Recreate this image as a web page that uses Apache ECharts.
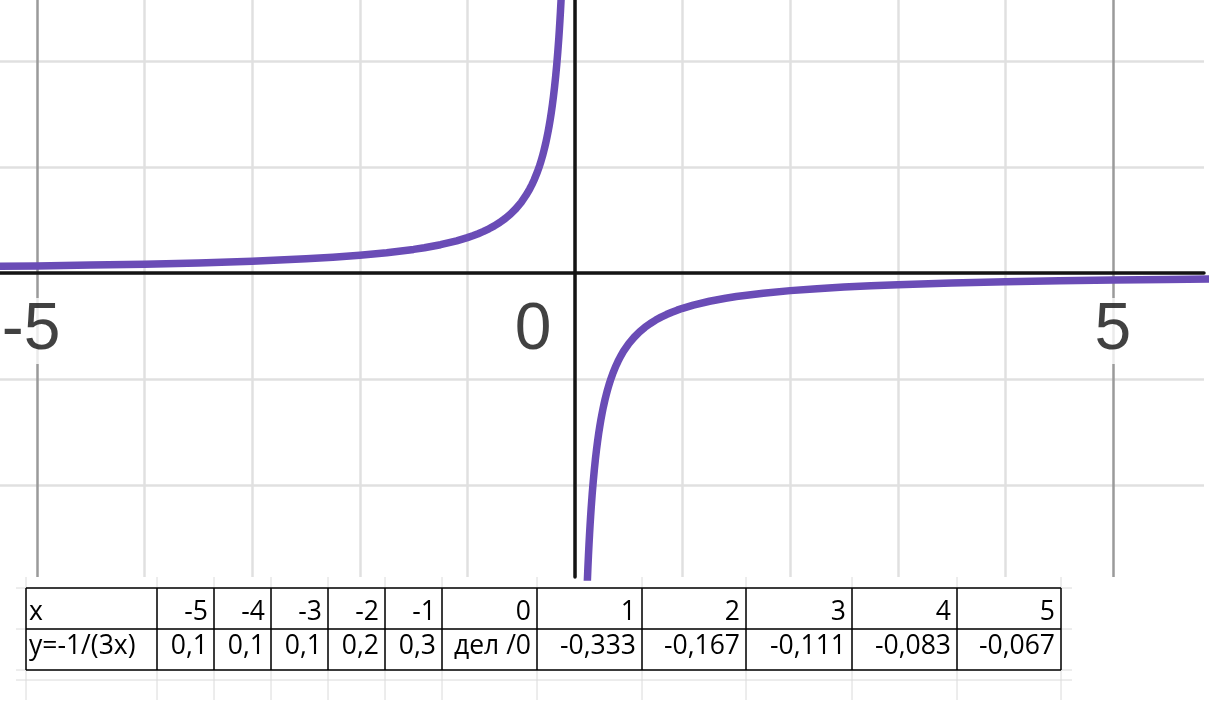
<!DOCTYPE html>
<html><head><meta charset="utf-8">
<script src="https://cdn.jsdelivr.net/npm/echarts@6/dist/echarts.min.js"></script>
<style>html,body{margin:0;padding:0;background:#fff}#c{width:1230px;height:708px}</style>
</head><body><div id="c"></div>
<script>
// ---- data: y = -1/(3x) ----
const curveNegX = [-5.4, -5, -4.5, -4, -3.5, -3, -2.75, -2.5, -2.25, -2, -1.75, -1.5, -1.4, -1.25, -1.1, -1, -0.95, -0.9, -0.85, -0.8, -0.75, -0.7, -0.65, -0.6, -0.55, -0.5, -0.45, -0.42, -0.4, -0.38, -0.35, -0.33, -0.32, -0.31, -0.3, -0.29, -0.28, -0.27, -0.26, -0.25, -0.24, -0.23, -0.22, -0.21, -0.2, -0.19, -0.18, -0.17, -0.16, -0.15, -0.145, -0.14, -0.135, -0.13, -0.125, -0.12, -0.11, -0.1];
const curveNegY = [0.0617, 0.0667, 0.0741, 0.0833, 0.0952, 0.1111, 0.1212, 0.1333, 0.1481, 0.1667, 0.1905, 0.2222, 0.2381, 0.2667, 0.3030, 0.3333, 0.3509, 0.3704, 0.3922, 0.4167, 0.4444, 0.4762, 0.5128, 0.5556, 0.6061, 0.6667, 0.7407, 0.7937, 0.8333, 0.8772, 0.9524, 1.0101, 1.0417, 1.0753, 1.1111, 1.1494, 1.1905, 1.2346, 1.2821, 1.3333, 1.3889, 1.4493, 1.5152, 1.5873, 1.6667, 1.7544, 1.8519, 1.9608, 2.0833, 2.2222, 2.2989, 2.381, 2.4691, 2.5641, 2.6667, 2.7778, 3.0303, 3.3333];
const curvePosX = [0.1, 0.11, 0.12, 0.125, 0.13, 0.135, 0.14, 0.145, 0.15, 0.16, 0.17, 0.18, 0.19, 0.2, 0.21, 0.22, 0.23, 0.24, 0.25, 0.26, 0.27, 0.28, 0.29, 0.3, 0.31, 0.32, 0.33, 0.35, 0.38, 0.4, 0.42, 0.45, 0.5, 0.55, 0.6, 0.65, 0.7, 0.75, 0.8, 0.85, 0.9, 0.95, 1, 1.1, 1.25, 1.4, 1.5, 1.75, 2, 2.25, 2.5, 2.75, 3, 3.5, 4, 4.5, 5, 5.5, 6];
const curvePosY = [-3.3333, -3.0303, -2.7778, -2.6667, -2.5641, -2.4691, -2.381, -2.2989, -2.2222, -2.0833, -1.9608, -1.8519, -1.7544, -1.6667, -1.5873, -1.5152, -1.4493, -1.3889, -1.3333, -1.2821, -1.2346, -1.1905, -1.1494, -1.1111, -1.0753, -1.0417, -1.0101, -0.9524, -0.8772, -0.8333, -0.7937, -0.7407, -0.6667, -0.6061, -0.5556, -0.5128, -0.4762, -0.4444, -0.4167, -0.3922, -0.3704, -0.3509, -0.3333, -0.3030, -0.2667, -0.2381, -0.2222, -0.1905, -0.1667, -0.1481, -0.1333, -0.1212, -0.1111, -0.0952, -0.0833, -0.0741, -0.0667, -0.0606, -0.0556];
const gridXTicks = [-5, -4, -3, -2, -1, 0, 1, 2, 3, 4, 5];
const gridYTicks = [-2, -1, 0, 1, 2];
const xLabelValues = [-5, 0, 5];
const tableRowHeads = ['x', 'y=-1/(3x)'];
const tableX = ['-5', '-4', '-3', '-2', '-1', '0', '1', '2', '3', '4', '5'];
const tableY = ['0,1', '0,1', '0,1', '0,2', '0,3', 'дел /0', '-0,333', '-0,167', '-0,111', '-0,083', '-0,067'];

// ---- layout ----
const X_RANGE = [-5.344, 5.846];
const Y_RANGE = [-2.868, 2.575];
const xLabelShift = [-6, -42, 0];
const xLabelDrop = 58;
const colEdges = [26, 157, 214, 271, 328, 385, 442, 537, 642, 746, 852, 957, 1061];
const rowEdges = [588, 629, 670];
const rowTextY = [612, 646];

const chart = echarts.init(document.getElementById('c'), null, { renderer: 'canvas' });
const majorColor = '#9a9a9a', minorColor = '#e0e0e0', axisColor = '#141414', curveColor = '#6a4cb6';
const labelFont = 'Liberation Sans, Arial, sans-serif';
const tableFont = '26.5px "Open Sans", "Noto Sans", sans-serif';

const graphics = [];
const faint = '#dadada';
colEdges.forEach(x => graphics.push({ type: 'line', silent: true, z: 10,
  shape: { x1: x, y1: 577, x2: x, y2: 700 }, style: { stroke: faint, lineWidth: 1 } }));
rowEdges.concat([680]).forEach(y => graphics.push({ type: 'line', silent: true, z: 10,
  shape: { x1: 16, y1: y, x2: 1072, y2: y }, style: { stroke: faint, lineWidth: 1 } }));
rowEdges.forEach(y => graphics.push({ type: 'line', silent: true, z: 11,
  shape: { x1: colEdges[0], y1: y, x2: colEdges[colEdges.length - 1], y2: y }, style: { stroke: '#000', lineWidth: 1.5 } }));
colEdges.forEach(x => graphics.push({ type: 'line', silent: true, z: 11,
  shape: { x1: x, y1: rowEdges[0], x2: x, y2: rowEdges[rowEdges.length - 1] }, style: { stroke: '#000', lineWidth: 1.5 } }));
tableRowHeads.forEach((t, r) => graphics.push({ type: 'text', silent: true, z: 12, x: colEdges[0] + 3, y: rowTextY[r],
  style: { text: t, font: tableFont, fill: '#000', align: 'left', verticalAlign: 'middle' } }));
[tableX, tableY].forEach((row, r) => row.forEach((t, i) => graphics.push({ type: 'text', silent: true, z: 12,
  x: colEdges[i + 2] - 6, y: rowTextY[r],
  style: { text: t, font: tableFont, fill: '#000', align: 'right', verticalAlign: 'middle' } })));

const option = {
  backgroundColor: '#fff',
  animation: false,
  grid: { left: 0, top: 0, width: 1204, height: 577, containLabel: false, outerBoundsMode: 'none' },
  xAxis: {
    type: 'value', min: X_RANGE[0], max: X_RANGE[1],
    axisLine: { onZero: true, lineStyle: { color: axisColor, width: 3.5 } },
    axisTick: { show: false, customValues: gridXTicks },
    axisLabel: { show: false },
    splitLine: { show: true, lineStyle: { width: 2.5,
      color: gridXTicks.map(v => (v !== 0 && v % 5 === 0) ? majorColor : minorColor) } }
  },
  yAxis: {
    type: 'value', min: Y_RANGE[0], max: Y_RANGE[1],
    axisLine: { onZero: true, lineStyle: { color: axisColor, width: 3.5 } },
    axisTick: { show: false, customValues: gridYTicks },
    axisLabel: { show: false },
    splitLine: { show: true, lineStyle: { width: 2.5, color: minorColor } }
  },
  series: [
    { type: 'line', name: 'neg', data: curveNegX.map((x, i) => [x, curveNegY[i]]), symbol: 'none',
      smooth: false, clip: true, lineStyle: { color: curveColor, width: 7.5, join: 'round', cap: 'butt' }, z: 5 },
    { type: 'line', name: 'pos', data: curvePosX.map((x, i) => [x, curvePosY[i]]), symbol: 'none',
      smooth: false, clip: true, lineStyle: { color: curveColor, width: 7.5, join: 'round', cap: 'butt' }, z: 5 },
    { type: 'scatter', name: 'ticklabels', symbolSize: 0, z: 3, silent: true, clip: false,
      data: xLabelValues.map((v, i) => ({ value: [v, 0],
        label: { offset: [xLabelShift[i], xLabelDrop] } })),
      label: { show: true, position: 'inside', formatter: p => String(p.value[0]),
        fontSize: 66, fontFamily: labelFont, color: '#111', backgroundColor: '#fff', padding: [0, 2] } }
  ],
  graphic: { elements: graphics }
};
chart.setOption(option);
</script>
</body></html>
